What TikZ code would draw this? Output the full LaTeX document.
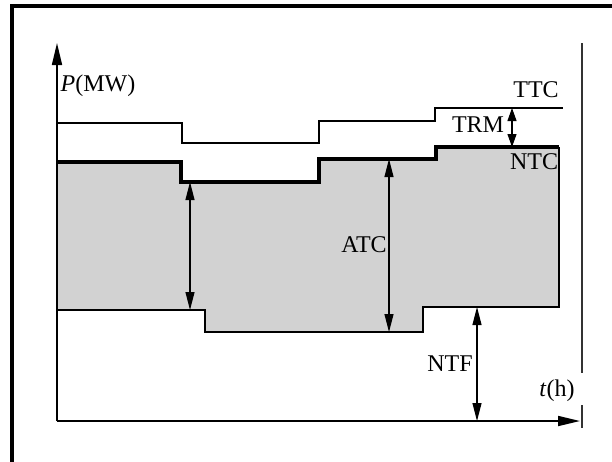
\documentclass[tikz,border=0pt]{standalone}
\usepackage{fontspec}
\setmainfont{Liberation Serif}
\usetikzlibrary{arrows.meta}
\begin{document}
\begin{tikzpicture}[x=1pt,y=-1pt,
  thinline/.style={line width=1.6pt, line join=miter},
  thickline/.style={line width=3.8pt, line join=miter},
  dim/.style={line width=1.1pt, {Triangle[length=18pt,width=9pt]}-{Triangle[length=18pt,width=9pt]}},
  axis/.style={line width=1.7pt, -{Triangle[length=22pt,width=10pt]}},
  lbl/.style={font=\fontsize{24}{28}\selectfont, inner sep=0pt}]
\useasboundingbox (0,0) rectangle (612,461);
% frame
\draw[line width=3.5pt] (620,6) -- (12,6) -- (12,470);
% right thin line
\draw[line width=1.3pt, black!80] (582,43) -- (582,373);
\draw[line width=1.3pt, black!80] (582,405) -- (582,428);
% gray region
\fill[gray!35] (57,162) -- (181,162) -- (181,182) -- (319,182) -- (319,159) -- (436,159) -- (436,147) -- (559,147) -- (559,307) -- (423,307) -- (423,332) -- (205,332) -- (205,310) -- (57,310) -- cycle;
% NTF line and right edge
\draw[thinline] (57,310) -- (205,310) -- (205,332) -- (423,332) -- (423,307) -- (559,307) -- (559,147);
% TTC line
\draw[thinline] (57,123) -- (182,123) -- (182,143) -- (319,143) -- (319,121) -- (435,121) -- (435,108) -- (563,108);
% NTC line
\draw[thickline] (57,162) -- (181,162) -- (181,182) -- (319,182) -- (319,159) -- (436,159) -- (436,147) -- (559,147);
% axes
\coordinate (O) at (57,421);
\coordinate (ytip) at (57,43);
\coordinate (xtip) at (580,421);
\draw[axis] (O) -- (ytip);
\draw[axis] (O) -- (xtip);
% dimension arrows
\coordinate (a1t) at (190,182);
\coordinate (a1b) at (190,310);
\coordinate (a2t) at (389,159);
\coordinate (a2b) at (389,332);
\coordinate (a3t) at (512,108);
\coordinate (a3b) at (512,147);
\coordinate (a4t) at (477,307);
\coordinate (a4b) at (477,421);
\draw[dim] (a1t) -- (a1b);
\draw[dim] (a2t) -- (a2b);
\draw[dim, {Triangle[length=13pt,width=9pt]}-{Triangle[length=13pt,width=9pt]}] (a3t) -- (a3b);
\draw[dim] (a4t) -- (a4b);
% labels
\node[lbl] (pmw) at (98,86) {\textit{P}(MW)};
\node[lbl] (ttc) at (536,90) {TTC};
\node[lbl] (trm) at (478,125) {TRM};
\node[lbl] (ntc) at (534,162) {NTC};
\node[lbl] (atc) at (364,245) {ATC};
\node[lbl] (ntf) at (450,364) {NTF};
\node[lbl] (th) at (557,391) {\textit{t}(h)};
\end{tikzpicture}
\end{document}
